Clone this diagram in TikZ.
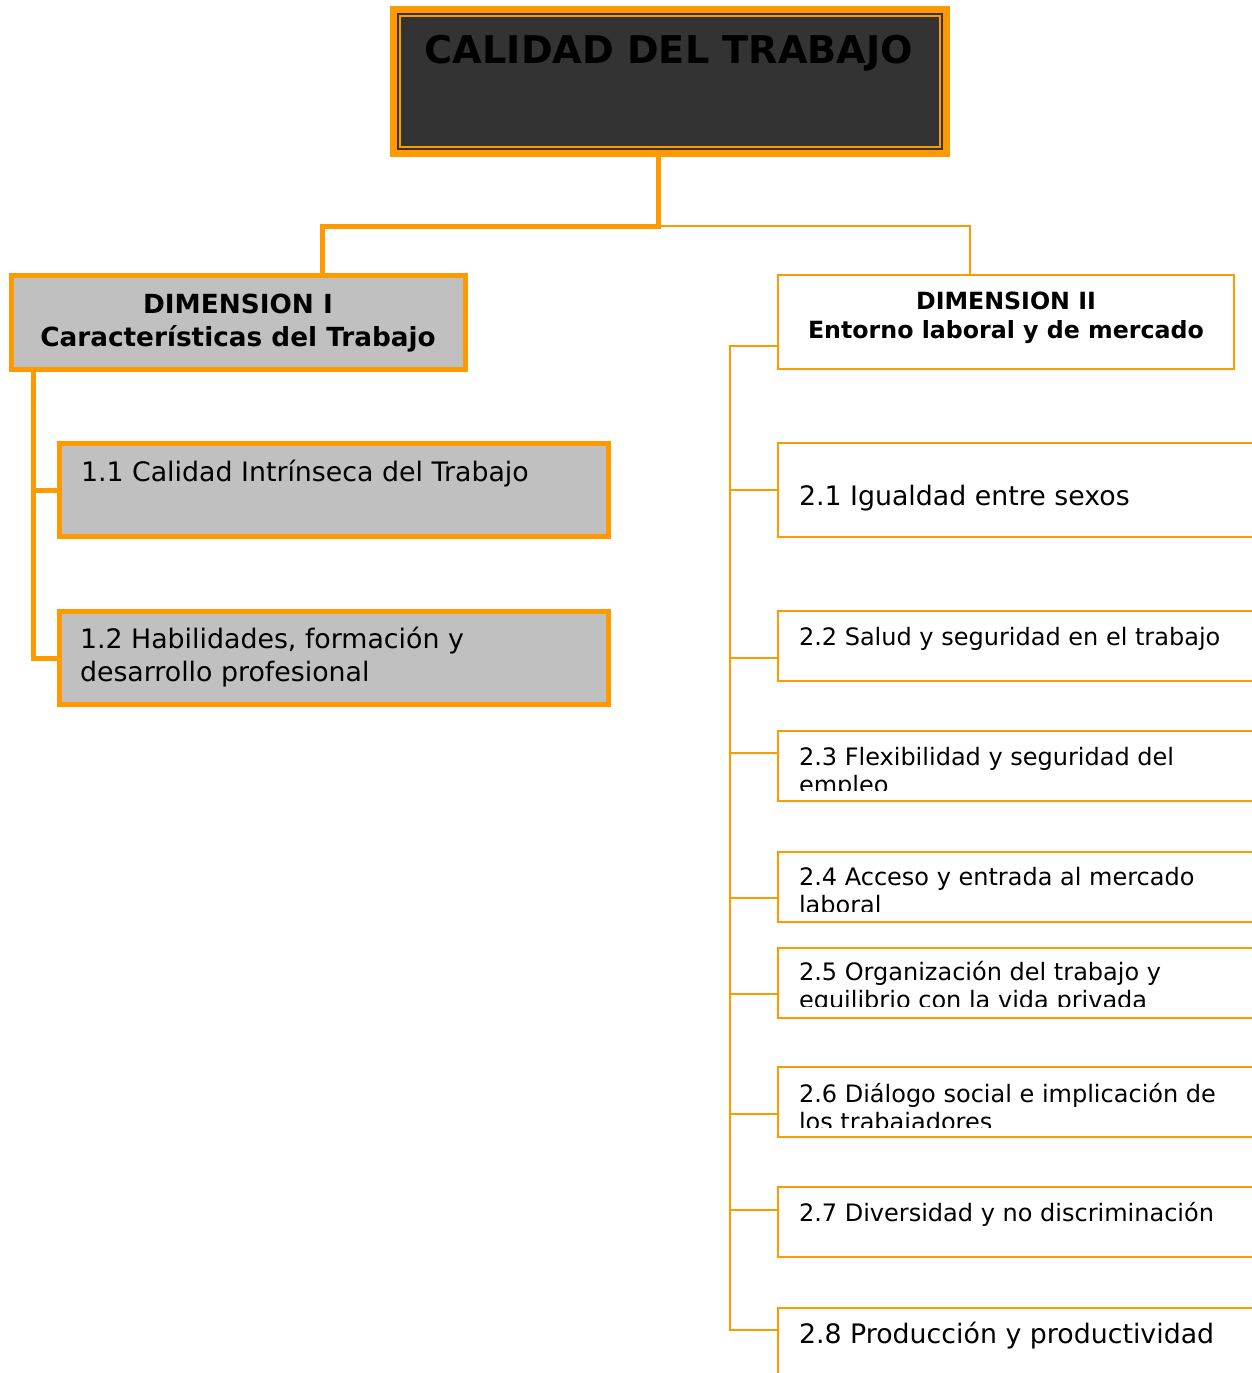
\documentclass[tikz,border=0pt]{standalone}
\usepackage{fontspec}
\setmainfont{DejaVu Sans}
\definecolor{orng}{HTML}{FF9900}
\definecolor{boxgray}{HTML}{C0C0C0}
\definecolor{darkfill}{HTML}{333333}
\begin{document}
\begin{tikzpicture}[x=1pt,y=-1pt,
  every node/.style={inner sep=0pt, outer sep=0pt},
  thickbox/.style={draw=orng, line width=5pt, fill=boxgray, rectangle, anchor=north west},
  thinbox/.style={draw=orng, line width=2pt, fill=white, rectangle, anchor=north west},
  thickline/.style={draw=orng, line width=5pt},
  thinline/.style={draw=orng, line width=2pt},
  bigtxt/.style={font=\fontsize{26.8}{33}\selectfont, anchor=base west, align=left},
  smalltxt/.style={font=\fontsize{24}{28}\selectfont, anchor=base west, align=left},
  dimtxt/.style={font=\bfseries, anchor=base, align=center}]
\useasboundingbox (0,0) rectangle (1252,1373);
\clip (0,0) rectangle (1252,1373);

% top box
\node[fill=orng, minimum width=560, minimum height=151, anchor=north west] (top) at (390,6) {};
\node[fill=darkfill, minimum width=546, minimum height=137, anchor=north west] (topin) at (397,13) {};
\node[draw=orng, line width=1.5pt, minimum width=540, minimum height=131, anchor=north west] (topframe) at (400,16) {};
\node[font=\fontsize{38.2}{46}\selectfont\bfseries, anchor=base, text=black] (title) at (669,63) {CALIDAD DEL TRABAJO};

% dimension I
\node[thickbox, minimum width=454, minimum height=94] (dim1) at (11,275) {};
\node[dimtxt, font=\fontsize{26.3}{33}\selectfont\bfseries] (dim1t) at (238,346) {DIMENSION I\\Características del Trabajo};
\node[thickbox, minimum width=549, minimum height=93] (b11) at (59,443.5) {};
\node[bigtxt, font=\fontsize{26.8}{33}\selectfont] (b11t) at (81,481) {1.1 Calidad Intrínseca del Trabajo};
\node[thickbox, minimum width=549, minimum height=93] (b12) at (59,611.5) {};
\node[bigtxt, font=\fontsize{26.8}{33}\selectfont] (b12t) at (80,681) {1.2 Habilidades, formación y\\desarrollo profesional};

% dimension II
\node[thinbox, minimum width=456, minimum height=94] (dim2) at (778,275) {};
\node[dimtxt, font=\fontsize{23.7}{29}\selectfont\bfseries] (dim2t) at (1006,338) {DIMENSION II\\Entorno laboral y de mercado};

\node[thinbox, minimum width=522, minimum height=94] (b21) at (778,443) {};
\node[bigtxt] (b21t) at (799,505) {2.1 Igualdad entre sexos};
\node[thinbox, minimum width=522, minimum height=70] (b22) at (778,611) {};
\node[smalltxt] (b22t) at (799,645) {2.2 Salud y seguridad en el trabajo};
\node[thinbox, minimum width=522, minimum height=70] (b23) at (778,731) {};
\node[thinbox, minimum width=522, minimum height=70] (b24) at (778,852) {};
\node[thinbox, minimum width=522, minimum height=70] (b25) at (778,948) {};
\node[thinbox, minimum width=522, minimum height=70] (b26) at (778,1067) {};
\node[thinbox, minimum width=522, minimum height=70] (b27) at (778,1187) {};
\node[smalltxt] (b27t) at (799,1221) {2.7 Diversidad y no discriminación};
\node[thinbox, minimum width=522, minimum height=120] (b28) at (778,1308) {};
\node[bigtxt] (b28t) at (799,1343) {2.8 Producción y productividad};

\begin{scope}
\clip (779,732) rectangle (1252,790);
\node[smalltxt] (b23t) at (799,793) {2.3 Flexibilidad y seguridad del\\empleo};
\end{scope}
\begin{scope}
\clip (779,853) rectangle (1252,911);
\node[smalltxt] (b24t) at (799,913) {2.4 Acceso y entrada al mercado\\laboral};
\end{scope}
\begin{scope}
\clip (779,949) rectangle (1252,1006);
\node[smalltxt] (b25t) at (799,1008) {2.5 Organización del trabajo y\\equilibrio con la vida privada};
\end{scope}
\begin{scope}
\clip (779,1068) rectangle (1252,1127);
\node[smalltxt] (b26t) at (799,1130) {2.6 Diálogo social e implicación de\\los trabajadores};
\end{scope}

% connectors top
\coordinate (jt) at (658,226);
\coordinate (jl) at (322,226);
\coordinate (jr) at (970,226);
\draw[thickline] (top.south -| jt) -- (jt) -- (jl) -- (jl |- dim1.north);
\draw[thinline] (jt) -- (jr) -- (jr |- dim2.north);

% left trunk
\coordinate (lt) at (33,0);
\draw[thickline] (dim1.south -| lt) -- (lt |- b12.west) -- (b12.west);
\draw[thickline] (lt |- b11.west) -- (b11.west);

% right trunk
\coordinate (r0) at (730,346);
\coordinate (r1) at (730,490);
\coordinate (r2) at (730,658);
\coordinate (r3) at (730,753);
\coordinate (r4) at (730,898);
\coordinate (r5) at (730,994);
\coordinate (r6) at (730,1114);
\coordinate (r7) at (730,1210);
\coordinate (r8) at (730,1330);
\draw[thinline] (r0 -| dim2.west) -- (r0) -- (r8) -- (r8 -| b28.west);
\draw[thinline] (r1) -- (r1 -| b21.west);
\draw[thinline] (r2) -- (r2 -| b22.west);
\draw[thinline] (r3) -- (r3 -| b23.west);
\draw[thinline] (r4) -- (r4 -| b24.west);
\draw[thinline] (r5) -- (r5 -| b25.west);
\draw[thinline] (r6) -- (r6 -| b26.west);
\draw[thinline] (r7) -- (r7 -| b27.west);
\end{tikzpicture}
\end{document}
